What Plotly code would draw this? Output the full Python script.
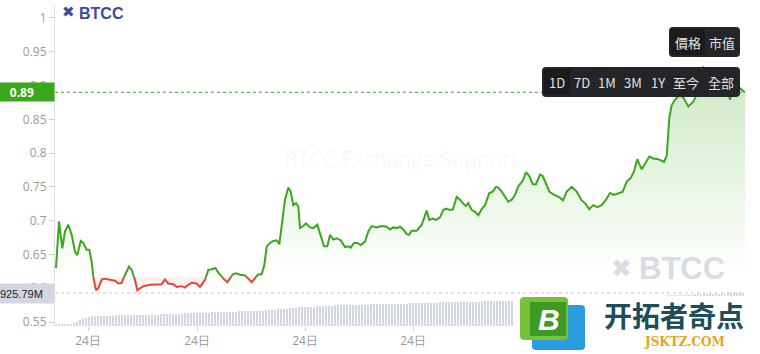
import plotly.graph_objects as go

# ---------------- data ----------------
# time (minutes index within the day) and price
price_t = [1, 4, 7.3, 10, 13.3, 16.7, 20, 22.3, 25.7, 28.3, 31.7, 34.3, 36.7, 38.3, 41, 43.3, 46.7, 50, 53.3,
           56.7, 60, 63.3, 66.7, 70, 74, 76.7, 80, 82.3, 85, 88.3, 95, 101.7, 106.7, 110, 113.3, 118.3, 121.7,
           126.7, 130, 133.3, 136.7, 141.7, 145, 148.3, 150, 153.3, 156.7, 160.5, 163.3, 166, 168.5, 172.5,
           175.5, 178, 181, 185, 190, 193.3, 196.7, 199.5, 203, 206.7, 209.3, 211.7, 215, 218.3, 221.7, 224.3,
           226.7, 230, 233.3, 235.7, 238.3, 241, 243.3, 245, 248.3, 251, 255, 258.3, 262.3, 265, 269, 272.3,
           275, 278.3, 281.7, 285.7, 290, 293.3, 295.7, 299, 302.3, 305.7, 310, 313.3, 316.7, 321.7, 326.7,
           331.7, 335, 338.3, 341.7, 345, 348.3, 351.7, 354, 356.7, 361.7, 366.7, 370, 371.7, 374.3, 377.7,
           381, 385, 388.3, 391, 394.3, 397.7, 401.7, 405, 408.3, 411, 413.3, 416.7, 420, 423.3, 426.7, 430,
           434.3, 437.7, 441, 443.3, 446.7, 450, 453.3, 456.7, 460, 463.3, 467.7, 471, 474.3, 477.7, 481, 485,
           487.7, 491, 494.3, 498.3, 501.7, 505, 508, 511.7, 516.7, 521.7, 526.7, 530, 534.3, 538.3, 542.3,
           546.7, 551, 555, 559, 563.3, 567.7, 571.7, 575.7, 579, 582.3, 586.7, 591, 594.3, 598.3, 603.3, 609,
           611.7, 614.3, 616.7, 620, 624.3, 628, 633.3, 638.3, 641, 644, 648, 652, 657, 663, 669, 673, 675,
           676.7, 681, 685, 688.3, 690]
price_v = [0.630, 0.699, 0.659, 0.684, 0.694, 0.679, 0.654, 0.649, 0.670, 0.667, 0.657, 0.657, 0.639, 0.617,
           0.597, 0.600, 0.613, 0.614, 0.613, 0.612, 0.611, 0.607, 0.608, 0.620, 0.632, 0.627, 0.612, 0.597,
           0.600, 0.603, 0.605, 0.606, 0.606, 0.613, 0.607, 0.606, 0.602, 0.603, 0.601, 0.605, 0.608, 0.607,
           0.602, 0.609, 0.612, 0.627, 0.628, 0.630, 0.623, 0.619, 0.614, 0.609, 0.616, 0.621, 0.622, 0.620,
           0.619, 0.614, 0.609, 0.614, 0.620, 0.621, 0.634, 0.662, 0.667, 0.670, 0.671, 0.665, 0.696, 0.731,
           0.749, 0.743, 0.723, 0.726, 0.721, 0.689, 0.692, 0.696, 0.690, 0.689, 0.694, 0.681, 0.662, 0.662,
           0.679, 0.672, 0.674, 0.671, 0.661, 0.662, 0.660, 0.667, 0.667, 0.664, 0.669, 0.684, 0.692, 0.690,
           0.692, 0.691, 0.687, 0.690, 0.689, 0.691, 0.687, 0.680, 0.679, 0.685, 0.685, 0.694, 0.706, 0.715,
           0.701, 0.703, 0.701, 0.705, 0.716, 0.718, 0.716, 0.716, 0.735, 0.731, 0.725, 0.722, 0.726, 0.716,
           0.713, 0.708, 0.717, 0.723, 0.741, 0.743, 0.750, 0.749, 0.743, 0.735, 0.728, 0.731, 0.738, 0.751,
           0.759, 0.772, 0.766, 0.754, 0.754, 0.768, 0.766, 0.755, 0.743, 0.739, 0.737, 0.734, 0.730, 0.743,
           0.750, 0.743, 0.730, 0.726, 0.717, 0.723, 0.720, 0.723, 0.731, 0.741, 0.738, 0.741, 0.743, 0.758,
           0.763, 0.773, 0.791, 0.776, 0.787, 0.795, 0.792, 0.791, 0.787, 0.796, 0.852, 0.871, 0.879, 0.886,
           0.883, 0.869, 0.876, 0.884, 0.894, 0.928, 0.916, 0.905, 0.911, 0.901, 0.890, 0.879, 0.889, 0.896,
           0.896, 0.892, 0.890]
BASELINE = 0.617
LAST_PRICE = 0.89

# volume (millions), one bar per 3-minute slot
vol_m = [30, 31, 36, 42, 55, 60, 85, 118, 160, 205, 232, 258, 272, 281, 287,
         288, 289, 290, 292, 293, 295, 296, 298, 300, 302, 303, 305, 307, 309, 311, 313, 316,
         318, 320, 322, 325, 328, 332, 336, 340, 345,
         348, 350, 353, 356, 358, 361, 364, 367, 370, 373, 376, 380, 384,
         386, 389, 392, 395, 398, 401, 404, 407, 410, 413, 416, 419, 422, 426, 430, 434,
         440, 445, 452, 460, 468, 475, 483, 490, 498, 505, 512,
         520, 525, 530, 535, 540, 545, 550, 555, 560, 565, 570,
         575, 578, 580, 582, 585, 587, 590, 592, 594, 596, 598, 600, 603, 606,
         608, 610, 612, 614, 616, 618, 620, 622, 624, 626, 628, 630, 632, 634, 636, 640,
         645, 648, 650, 652, 655, 658, 660, 662, 664, 666, 668, 670,
         672, 674, 676, 678, 680, 682, 684, 686, 688, 690, 692, 694, 696, 698, 700,
         702, 704, 706, 708, 710, 712, 714, 716, 718,
         720, 723, 726, 729, 732, 735, 738, 741, 744, 747, 750, 753,
         756, 759, 762, 765, 768, 771, 774, 777, 780, 783, 786, 789,
         792, 795, 798, 801, 804, 807, 810, 813, 816, 819, 822, 825,
         828, 831, 834, 837, 840, 843, 846, 849, 852, 855, 858, 861,
         864, 867, 870, 873, 876, 879, 882, 885, 888, 891, 894, 897,
         900, 902, 904, 906, 908, 910, 912, 914, 917, 920, 923, 925.79]
vol_t = list(range(1, 1 + 3 * len(vol_m), 3))
LAST_VOL = 925.79

x_tickvals = [33, 142, 250, 358]
x_ticktext = ["24日"] * len(x_tickvals)
y_tickvals = [0.55, 0.6, 0.65, 0.7, 0.75, 0.8, 0.85, 0.9, 0.95, 1]

GREEN = "#3aa81c"
RED = "#e5483b"
VOLC = "#d3d7e4"

# ------------ split line at baseline crossings ------------
aug_t, aug_v = [], []
for i, (tt, vv) in enumerate(zip(price_t, price_v)):
    if i > 0:
        p = price_v[i - 1]
        if (p - BASELINE) * (vv - BASELINE) < 0:
            f = (BASELINE - p) / (vv - p)
            aug_t.append(price_t[i - 1] + f * (tt - price_t[i - 1]))
            aug_v.append(BASELINE)
    aug_t.append(tt)
    aug_v.append(vv)

green_y = [v if v >= BASELINE else None for v in aug_v]
red_y = [v if v <= BASELINE else None for v in aug_v]
up_fill = [max(v, BASELINE) for v in aug_v]
dn_fill = [min(v, BASELINE) for v in aug_v]
base_line = [BASELINE] * len(aug_v)

fig = go.Figure()
# volume
fig.add_trace(go.Bar(x=vol_t, y=vol_m, width=2, marker=dict(color=VOLC, line=dict(width=0)),
                     yaxis="y2", hoverinfo="skip", showlegend=False))
# fills
fig.add_trace(go.Scatter(x=aug_t, y=base_line, mode="lines", line=dict(width=0), hoverinfo="skip",
                         showlegend=False))
fig.add_trace(go.Scatter(x=aug_t, y=up_fill, mode="lines", line=dict(width=0), fill="tonexty",
                         fillgradient=dict(type="vertical",
                                           colorscale=[[0, "rgba(58,168,28,0.0)"], [1, "rgba(58,168,28,0.26)"]],
                                           start=BASELINE, stop=0.93),
                         hoverinfo="skip", showlegend=False))
fig.add_trace(go.Scatter(x=aug_t, y=base_line, mode="lines", line=dict(width=0), hoverinfo="skip",
                         showlegend=False))
fig.add_trace(go.Scatter(x=aug_t, y=dn_fill, mode="lines", line=dict(width=0), fill="tonexty",
                         fillcolor="rgba(229,72,59,0.07)", hoverinfo="skip", showlegend=False))
# lines
fig.add_trace(go.Scatter(x=aug_t, y=green_y, mode="lines", line=dict(color=GREEN, width=2),
                         connectgaps=False, showlegend=False))
fig.add_trace(go.Scatter(x=aug_t, y=red_y, mode="lines", line=dict(color=RED, width=2),
                         connectgaps=False, showlegend=False))

W, H = 760, 354
L, R, T, B = 55, 15, 5, 28
PW, PH = W - L - R, H - T - B


def px(x):
    return (x - L) / PW


def py(y):
    return (H - B - y) / PH


def rrect(x0, y0, x1, y1, r=4):
    a0, a1 = px(x0), px(x1)
    b0, b1 = py(y0), py(y1)  # b0 top (larger)
    rx, ry = r / PW, r / PH
    return (f"M{a0+rx},{b0} L{a1-rx},{b0} Q{a1},{b0} {a1},{b0-ry} L{a1},{b1+ry} Q{a1},{b1} {a1-rx},{b1} "
            f"L{a0+rx},{b1} Q{a0},{b1} {a0},{b1+ry} L{a0},{b0-ry} Q{a0},{b0} {a0+rx},{b0} Z")


shapes = [
    # price last line
    dict(type="line", xref="paper", yref="y", x0=0, x1=1, y0=LAST_PRICE, y1=LAST_PRICE,
         line=dict(color=GREEN, width=1, dash="dot"), layer="below"),
    # volume last line
    dict(type="line", xref="paper", yref="y2", x0=0, x1=1, y0=LAST_VOL, y1=LAST_VOL,
         line=dict(color="#c4c8d2", width=1, dash="dot"), layer="below"),
    # logo white background bottom-right
    dict(type="rect", xref="paper", yref="paper", x0=px(513), x1=px(762), y0=py(356), y1=py(296),
         fillcolor="white", line=dict(width=0), layer="above"),
    # buttons
    dict(type="path", xref="paper", yref="paper", path=rrect(669, 27, 740, 57), fillcolor="#242528",
         line=dict(width=0)),
    dict(type="rect", xref="paper", yref="paper", x0=px(671), x1=px(705), y0=py(55), y1=py(29),
         fillcolor="#1b1b1d", line=dict(width=0)),
    dict(type="path", xref="paper", yref="paper", path=rrect(542, 67, 740, 97), fillcolor="#242528",
         line=dict(width=0)),
    dict(type="rect", xref="paper", yref="paper", x0=px(544), x1=px(570), y0=py(95), y1=py(69),
         fillcolor="#1b1b1d", line=dict(width=0)),
    # jsktz logo squares
    dict(type="path", xref="paper", yref="paper", path=rrect(532, 305, 585, 350, 4), fillcolor="#2a9de0",
         line=dict(width=0)),
    dict(type="path", xref="paper", yref="paper", path=rrect(520, 297, 568, 340, 4), fillcolor="#78c23a",
         line=dict(width=0)),
    dict(type="rect", xref="paper", yref="paper", x0=px(530), x1=px(566), y0=py(336), y1=py(302),
         fillcolor="#3f9a25", line=dict(width=0)),
    # label tick marks
    dict(type="line", xref="paper", yref="y", x0=px(49), x1=px(54), y0=LAST_PRICE, y1=LAST_PRICE,
         line=dict(color="white", width=1)),
    dict(type="line", xref="paper", yref="y2", x0=px(49), x1=px(54), y0=LAST_VOL, y1=LAST_VOL,
         line=dict(color="#222", width=1)),
]

ann = []
# axis value labels
ann.append(dict(xref="paper", yref="y", x=0, y=LAST_PRICE, xanchor="right", yanchor="middle",
                text="<b>0.89</b>   ", showarrow=False, bgcolor=GREEN, width=51, height=14, borderpad=2,
                font=dict(family="Open Sans", size=12, color="white"), align="center"))
ann.append(dict(xref="paper", yref="y2", x=0, y=LAST_VOL, xanchor="right", yanchor="middle",
                text="925.79M", showarrow=False, bgcolor="#d3d7e4", width=53, height=17, borderpad=1,
                font=dict(family="Liberation Sans", size=11, color="#222"), align="left"))
# top-left logo
ann.append(dict(xref="paper", yref="paper", x=px(68.5), y=py(12.5), text="✖", showarrow=False,
                font=dict(family="DejaVu Sans", size=15, color="#3d4b9b"), xanchor="center", yanchor="middle"))
ann.append(dict(xref="paper", yref="paper", x=px(77), y=py(13), text="<b>BTCC</b>", showarrow=False,
                font=dict(family="Liberation Sans", size=16, color="#3d4b9b"), xanchor="left", yanchor="middle"))
# center watermark
ann.append(dict(xref="paper", yref="paper", x=px(401), y=py(159), text="BTCC Exchange Support", showarrow=False,
                font=dict(family="Open Sans", size=21, color="rgba(0,0,0,0.045)"), xanchor="center",
                yanchor="middle"))
# bottom-right watermark
ann.append(dict(xref="paper", yref="paper", x=px(621), y=py(268), text="✖", showarrow=False,
                font=dict(family="DejaVu Sans", size=25, color="#d9dce5"), xanchor="center", yanchor="middle"))
ann.append(dict(xref="paper", yref="paper", x=px(637), y=py(268), text="<b>BTCC</b>", showarrow=False,
                font=dict(family="Liberation Sans", size=31, color="#d9dce5"), xanchor="left", yanchor="middle"))
# buttons text
for label, cx in [("價格", 688), ("市值", 722)]:
    ann.append(dict(xref="paper", yref="paper", x=px(cx), y=py(42), text=label, showarrow=False,
                    font=dict(family="Noto Sans CJK TC", size=13, color="#e2e2e2"),
                    xanchor="center", yanchor="middle"))
for label, cx in [("1D", 557), ("7D", 582), ("1M", 607), ("3M", 633), ("1Y", 658), ("至今", 686), ("全部", 721)]:
    ann.append(dict(xref="paper", yref="paper", x=px(cx), y=py(82), text=label, showarrow=False,
                    font=dict(family="Noto Sans CJK TC", size=13, color="#e2e2e2"),
                    xanchor="center", yanchor="middle"))
# jsktz logo text
ann.append(dict(xref="paper", yref="paper", x=px(549), y=py(319), text="<b><i>B</i></b>", showarrow=False,
                font=dict(family="Liberation Sans", size=30, color="white"), xanchor="center", yanchor="middle"))
ann.append(dict(xref="paper", yref="paper", x=px(674), y=py(315), text="<b>开拓者奇点</b>", showarrow=False,
                font=dict(family="Noto Sans CJK SC", size=28, color="#1d4d5c"), xanchor="center",
                yanchor="middle"))
ann.append(dict(xref="paper", yref="paper", x=px(684), y=py(342), text="<b>JSKTZ.COM</b>", showarrow=False,
                font=dict(family="DejaVu Serif", size=12, color="#e3a620"), xanchor="center", yanchor="middle"))

fig.update_layout(
    width=W, height=H, margin=dict(l=L, r=R, t=T, b=B),
    paper_bgcolor="white", plot_bgcolor="white",
    showlegend=False, bargap=0,
    xaxis=dict(range=[0, 690], tickvals=x_tickvals, ticktext=x_ticktext, ticks="outside", ticklen=4,
               tickcolor="#cfcfcf", showgrid=False, zeroline=False, showline=False,
               tickfont=dict(family="Open Sans", size=12, color="#9a9a9a")),
    yaxis=dict(range=[0.5441, 1.0192], tickvals=y_tickvals, ticks="outside", ticklen=5, tickcolor="#cfcfcf",
               showgrid=False, zeroline=False, showline=True, linecolor="#e3e3e3", linewidth=1,
               tickfont=dict(family="Open Sans", size=12, color="#9a9a9a")),
    yaxis2=dict(range=[0, 9005], overlaying="y", showgrid=False, zeroline=False, showticklabels=False,
                visible=False),
    shapes=shapes, annotations=ann,
)

fig.write_html("out.html")
